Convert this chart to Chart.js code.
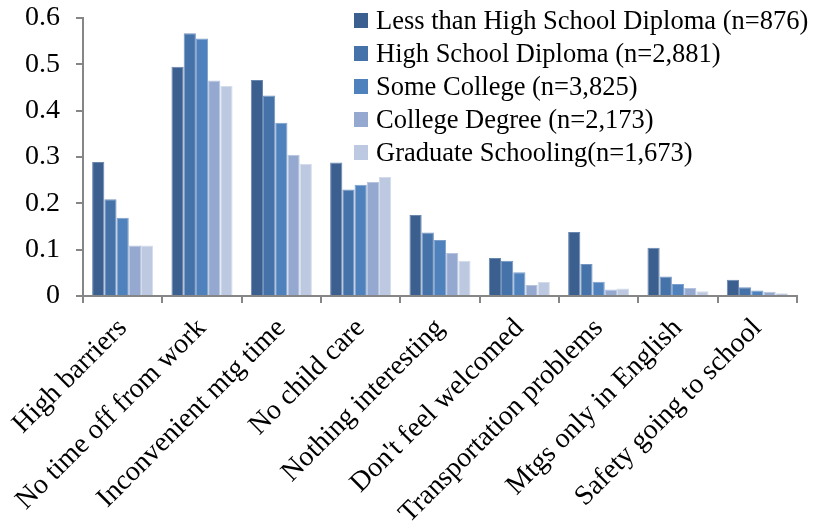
<!DOCTYPE html>
<html>
<head>
<meta charset="utf-8">
<script src="https://cdn.jsdelivr.net/npm/chart.js@4.4.1/dist/chart.umd.min.js"></script>
<style>
  html, body { margin: 0; padding: 0; background: #ffffff; }
  #wrap { position: relative; width: 832px; height: 524px; }
  #legend { position: absolute; left: 354px; top: 4px; font-family: "Liberation Serif", "Times New Roman", serif; font-size: 26.5px; color: #000; }
  .item { height: 33px; line-height: 33px; display: flex; align-items: center; white-space: nowrap; }
  .sw { width: 14px; height: 15px; margin-right: 8px; flex: none; }
</style>
</head>
<body>
<div id="wrap">
  <canvas id="c" width="832" height="524"></canvas>
  <div id="legend"></div>
</div>
<script>
const categories = ['High barriers', 'No time off from work', 'Inconvenient mtg time', 'No child care', 'Nothing interesting', "Don't feel welcomed", 'Transportation problems', 'Mtgs only in English', 'Safety going to school'];
const seriesLabels = ['Less than High School Diploma (n=876)', 'High School Diploma (n=2,881)', 'Some College (n=3,825)', 'College Degree (n=2,173)', 'Graduate Schooling(n=1,673)'];
const lessThanHS   = [0.289, 0.495, 0.466, 0.288, 0.175, 0.082, 0.138, 0.104, 0.035];
const hsDiploma    = [0.209, 0.567, 0.433, 0.230, 0.137, 0.076, 0.069, 0.042, 0.019];
const someCollege  = [0.169, 0.556, 0.374, 0.240, 0.121, 0.051, 0.031, 0.026, 0.012];
const collegeDeg   = [0.109, 0.465, 0.305, 0.246, 0.093, 0.024, 0.014, 0.017, 0.009];
const gradSchool   = [0.109, 0.453, 0.285, 0.257, 0.076, 0.030, 0.016, 0.010, 0.006];
const yTicks = [0, 0.1, 0.2, 0.3, 0.4, 0.5, 0.6];

const colors = ['#3B5F8E', '#4572A8', '#4F81BD', '#95A9D0', '#BDC9E1'];
const borders = ['#6A87AE', '#7395C0', '#7EA0CC', '#B6C4DF', '#D4DCEC'];
const values = [lessThanHS, hsDiploma, someCollege, collegeDeg, gradSchool];

const FONT = '"Liberation Serif", "Times New Roman", serif';
const AXIS = '#868686';

const chart = new Chart(document.getElementById('c'), {
  type: 'bar',
  data: {
    labels: categories,
    datasets: values.map((v, i) => ({
      label: seriesLabels[i],
      data: v,
      backgroundColor: colors[i],
      borderColor: borders[i],
      borderWidth: 1,
      categoryPercentage: 0.77,
      barPercentage: 1.0
    }))
  },
  options: {
    responsive: false,
    devicePixelRatio: 1,
    animation: false,
    layout: { padding: { top: 18, right: 35, left: 0, bottom: 0 } },
    plugins: { legend: { display: false }, tooltip: { enabled: false } },
    scales: {
      x: {
        offset: true,
        grid: { offset: true, drawOnChartArea: false, drawTicks: true, tickLength: 7, color: AXIS, lineWidth: 2 },
        border: { display: true, color: AXIS, width: 2 },
        ticks: { autoSkip: false, minRotation: 45, maxRotation: 45, padding: 9, color: '#000', font: { family: FONT, size: 28 } },
        afterFit: (s) => { s.height = 228; }
      },
      y: {
        min: 0, max: 0.6,
        afterBuildTicks: (s) => { s.ticks = yTicks.map(v => ({ value: v })); },
        grid: { drawOnChartArea: false, drawTicks: true, tickLength: 7, color: AXIS, lineWidth: 2 },
        border: { display: true, color: AXIS, width: 2 },
        ticks: { padding: 16, color: '#000', font: { family: FONT, size: 28 }, callback: (v) => String(Math.round(v * 10) / 10) },
        afterFit: (s) => { s.width = 83; s.paddingTop = 0; s.paddingBottom = 0; }
      }
    }
  }
});

const leg = document.getElementById('legend');
chart.data.datasets.forEach(ds => {
  const row = document.createElement('div');
  row.className = 'item';
  const sw = document.createElement('span');
  sw.className = 'sw';
  sw.style.background = ds.backgroundColor;
  const t = document.createElement('span');
  t.textContent = ds.label;
  row.appendChild(sw); row.appendChild(t);
  leg.appendChild(row);
});
</script>
</body>
</html>
